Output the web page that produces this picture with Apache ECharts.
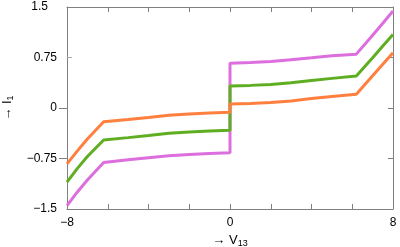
<!DOCTYPE html>
<html>
<head>
<meta charset="utf-8">
<script src="https://cdn.jsdelivr.net/npm/echarts@6/dist/echarts.min.js"></script>
<style>html,body{margin:0;padding:0;background:#fff}#c{width:400px;height:247px}</style>
</head>
<body>
<div id="c"></div>
<script>
// V13 sample positions (0 appears twice: just before and just after the jump)
var xValues = [-8, -7.5, -7, -6.2, -5, -4, -3, -2, -1, 0, 0, 1, 2, 3, 4, 5, 6.2, 7, 7.5, 8];
var orangeI1 = [-0.83, -0.64, -0.46, -0.205, -0.17, -0.14, -0.108, -0.088, -0.074, -0.064, 0.058, 0.066, 0.08, 0.104, 0.14, 0.17, 0.205, 0.48, 0.65, 0.82];
var greenI1  = [-1.10, -0.90, -0.72, -0.475, -0.44, -0.41, -0.375, -0.355, -0.34, -0.33, 0.327, 0.336, 0.35, 0.375, 0.41, 0.44, 0.475, 0.745, 0.92, 1.09];
var pinkI1   = [-1.45, -1.25, -1.07, -0.81, -0.77, -0.74, -0.71, -0.69, -0.675, -0.664, 0.664, 0.676, 0.69, 0.718, 0.745, 0.775, 0.80, 1.08, 1.26, 1.44];
var xTickLabels = [-8, 0, 8];
var yTickLabels = [-1.5, -0.75, 0, 0.75, 1.5];

function pairs(ys){ return xValues.map(function(x,i){ return [x, ys[i]]; }); }
function fmt(v){ return (v < 0 ? '\u2212' + String(-v) : String(v)); }

var axisGray = '#808080';
var chart = echarts.init(document.getElementById('c'), null, {renderer:'canvas'});
var font = 'Liberation Sans, Arial, sans-serif';
chart.setOption({
  animation: false,
  backgroundColor: '#fff',
  grid: {left: 67, right: 7, top: 7, bottom: 38, containLabel: false, outerBoundsMode: 'none'},
  xAxis: [{
    type: 'value', min: -8, max: 8, interval: 2, position: 'bottom',
    axisLine: {show: true, onZero: false, lineStyle: {color: axisGray, width: 1}},
    axisTick: {show: true, inside: true, length: 5, lineStyle: {color: axisGray}},
    splitLine: {show: false},
    axisLabel: {
      color: '#000', fontSize: 12, fontFamily: font, margin: 8,
      formatter: function(v){ return xTickLabels.indexOf(v) >= 0 ? fmt(v) : ''; }
    },
    name: '\u2192 V{sub|13}', nameLocation: 'middle', nameGap: 22,
    nameTextStyle: {color: '#000', fontSize: 13, fontFamily: font,
      rich: {sub: {fontSize: 9, fontFamily: font, color: '#000', padding: [7, 0, 0, 0]}}}
  }, {
    type: 'value', min: -8, max: 8, interval: 2, position: 'top',
    axisLine: {show: true, onZero: false, lineStyle: {color: axisGray, width: 1}},
    axisTick: {show: true, inside: true, length: 5, lineStyle: {color: axisGray}},
    splitLine: {show: false}, axisLabel: {show: false}
  }],
  yAxis: [{
    type: 'value', min: -1.5, max: 1.5, interval: 0.75, position: 'left',
    axisLine: {show: true, onZero: false, lineStyle: {color: axisGray, width: 1}},
    axisTick: {show: true, inside: true, length: 5, customValues: [0.75], lineStyle: {color: '#aaa'}},
    splitLine: {show: false},
    axisLabel: {
      color: '#000', fontSize: 12, fontFamily: font, margin: 10,
      formatter: function(v){
        if (yTickLabels.indexOf(v) < 0) return '';
        if (v === 1.5) return '{top|' + fmt(v) + '}';
        return fmt(v);
      },
      rich: {top: {fontSize: 12, fontFamily: font, color: '#000', padding: [0, 9, 0, 0]}}
    },
    name: '\u2192 I{sub|1}', nameLocation: 'middle', nameRotate: 90, nameGap: 52,
    nameTextStyle: {color: '#000', fontSize: 13, fontFamily: font,
      rich: {sub: {fontSize: 9, fontFamily: font, color: '#000', padding: [7, 0, 0, 0]}}}
  }, {
    type: 'value', min: -1.5, max: 1.5, interval: 0.75, position: 'right',
    axisLine: {show: true, onZero: false, lineStyle: {color: axisGray, width: 1}},
    axisTick: {show: true, inside: true, length: 5, lineStyle: {color: axisGray}},
    splitLine: {show: false}, axisLabel: {show: false}
  }, {
    type: 'value', min: -1.5, max: 1.5, interval: 0.75, position: 'left',
    axisLine: {show: false, onZero: false},
    axisTick: {show: true, inside: false, length: 8, customValues: [0, -0.75], lineStyle: {color: axisGray}},
    splitLine: {show: false}, axisLabel: {show: false}
  }],
  series: [
    {type: 'line', data: pairs(pinkI1), showSymbol: false, xAxisIndex: 0, yAxisIndex: 0,
     lineStyle: {color: '#DD6EDD', width: 3}, itemStyle: {color: '#DD6EDD'}},
    {type: 'line', data: pairs(greenI1), showSymbol: false, xAxisIndex: 0, yAxisIndex: 0,
     lineStyle: {color: '#5FAE22', width: 3}, itemStyle: {color: '#5FAE22'}},
    {type: 'line', data: pairs(orangeI1), showSymbol: false, xAxisIndex: 0, yAxisIndex: 0,
     lineStyle: {color: '#FF7F3F', width: 3}, itemStyle: {color: '#FF7F3F'}}
  ]
});
</script>
</body>
</html>
